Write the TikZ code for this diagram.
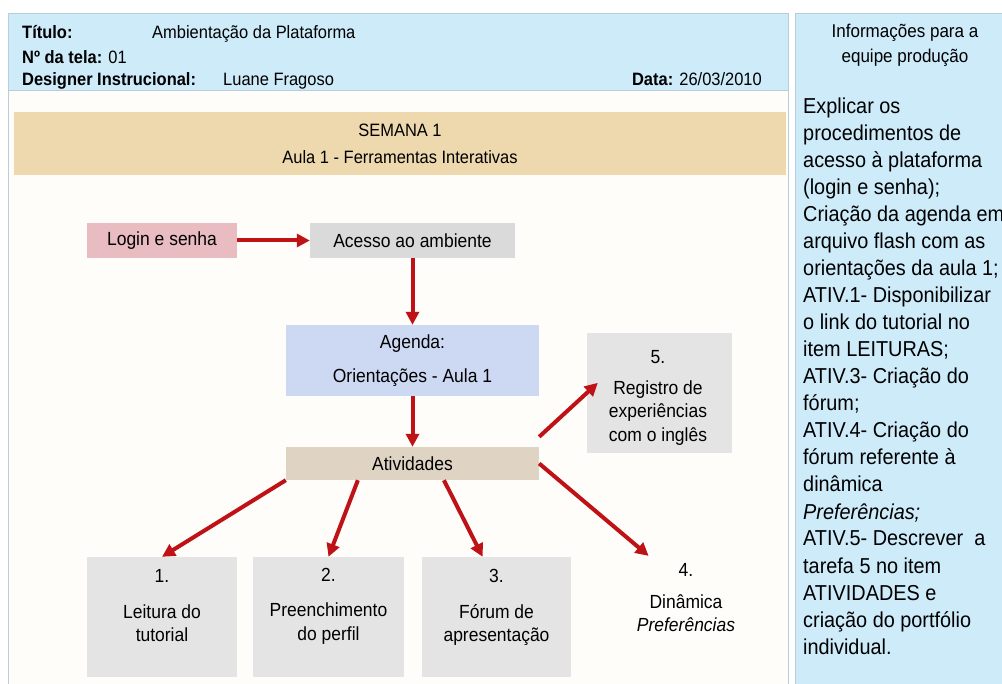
\documentclass[tikz,border=0pt]{standalone}
\usepackage{fontspec}
\setmainfont{Liberation Sans}[FakeStretch=0.92]
\usetikzlibrary{arrows.meta}
\definecolor{headblue}{RGB}{206,235,250}
\definecolor{panelline}{RGB}{185,205,220}
\definecolor{paper}{RGB}{254,253,249}
\definecolor{bannertan}{RGB}{238,217,175}
\definecolor{loginpink}{RGB}{232,188,192}
\definecolor{marble}{RGB}{218,218,218}
\definecolor{agendablue}{RGB}{205,216,243}
\definecolor{ativtan}{RGB}{223,211,196}
\definecolor{cardgray}{RGB}{228,228,228}
\definecolor{arrowred}{RGB}{190,18,22}
\tikzset{
  hd/.style={anchor=base west, inner sep=0pt, font=\fontsize{17.9}{21}\selectfont},
  banner/.style={fill=bannertan, minimum width=772pt, minimum height=63pt, inner sep=0pt, align=center, font=\fontsize{17.9}{21}\selectfont},
  tag/.style={inner sep=0pt, align=center, minimum height=35pt, font=\fontsize{19}{23.5}\selectfont},
  card/.style={fill=cardgray, minimum height=120pt, inner sep=0pt},
  cardtxt/.style={inner sep=0pt, align=center, font=\fontsize{19}{23.5}\selectfont},
  sidetxt/.style={anchor=base west, inner sep=0pt, font=\fontsize{21.6}{24}\selectfont},
  seta/.style={arrowred, line width=4pt, -{Triangle[length=13pt,width=13pt]}},
}

\begin{document}
\begin{tikzpicture}[x=1pt,y=-1pt]
\useasboundingbox (0,0) rectangle (1002,684);
%Panels
\fill[white] (0,0) rectangle (1002,684);
\filldraw[fill=paper, draw=panelline] (8,13) rectangle (788,690);
\filldraw[fill=headblue, draw=panelline] (8,13) rectangle (788,90);
\fill[headblue] (795,13) rectangle (1002,684);
\draw[panelline] (795,684) -- (795,13) -- (1002,13);

%Header
\node[hd] (tit) at (22,39) {\textbf{Título:}};
\node[hd] (titv) at (152,39) {Ambientação da Plataforma};
\node[hd] (tela) at (22,64) {\textbf{Nº da tela:} 01};
\node[hd] (des) at (22,86) {\textbf{Designer Instrucional:}};
\node[hd] (desv) at (223,86) {Luane Fragoso};
\node[hd, anchor=base east] (data) at (762,86) {\textbf{Data:} 26/03/2010};

%Banner
\node[banner] (sem) at (400,143.5) {SEMANA 1\\[6pt]Aula 1 - Ferramentas Interativas};

%Flow
\node[tag, fill=loginpink, minimum width=150pt] (login) at (162,240.5) {Login e senha};
\node[tag, fill=marble, minimum width=205pt] (acesso) at (412.5,240.5) {Acesso ao ambiente};
\node[tag, fill=agendablue, minimum width=253pt, minimum height=71pt] (agenda) at (412.5,360.5) {Agenda:\\[10.5pt]Orientações - Aula 1};
\node[tag, fill=ativtan, minimum width=253pt, minimum height=33pt] (ativ) at (412.5,463.5) {Atividades};

%Cards
\foreach \cx/\cy/\nm/\w in {162/617/leit/150, 328.5/617/perf/151, 496.5/617/forum/149, 659.5/393/reg/145}
  \node[card, minimum width=\w pt] (\nm) at (\cx,\cy) {};
\node[cardtxt] (leit-t) at (162,606) {1.\\[12pt]Leitura do\\tutorial};
\node[cardtxt] (perf-t) at (328.5,606) {2.\\[12pt]Preenchimento\\do perfil};
\node[cardtxt] (forum-t) at (496.5,607.5) {3.\\[12pt]Fórum de\\apresentação};
\node[cardtxt] (reg-t) at (658,397.5) {5.\\[7.5pt]Registro de\\experiências\\com o inglês};
\node[cardtxt, inner sep=2pt] (din) at (686,598) {4.\\[8pt]Dinâmica\\\textit{Preferências}};

%Arrows
\draw[seta] (login) -- (acesso);
\draw[seta] (acesso) -- (agenda);
\draw[seta] (agenda) -- (ativ);
\draw[seta, shorten >=-15pt] ([yshift=10pt]ativ.north east) -- (reg.west);
\foreach \a/\b in {ativ.south west/leit.north, ativ.197/perf.north, ativ.332/forum.103}
  \draw[seta] (\a) -- (\b);
\draw[seta, shorten >=9pt] (ativ.east) -- (din.130);

%Side panel
\node[align=center, inner sep=0pt, font=\fontsize{18.5}{25}\selectfont] (info) at (905,45) {Informações para a\\equipe produção};
\foreach \t [count=\i] in {{Explicar os}, {procedimentos de}, {acesso à plataforma}, {(login e senha);},
  {Criação da agenda em}, {arquivo flash com as}, {orientações da aula 1;}, {ATIV.1- Disponibilizar},
  {o link do tutorial no}, {item LEITURAS;}, {ATIV.3- Criação do}, {fórum;}, {ATIV.4- Criação do},
  {fórum referente à}, {dinâmica}, {\textit{Preferências;}}, {ATIV.5- Descrever\ \ a}, {tarefa 5 no item},
  {ATIVIDADES e}, {criação do portfólio}, {individual.}}
  \node[sidetxt] (side\i) at (803,114+\i*27-27) {\t};
\end{tikzpicture}
\end{document}
